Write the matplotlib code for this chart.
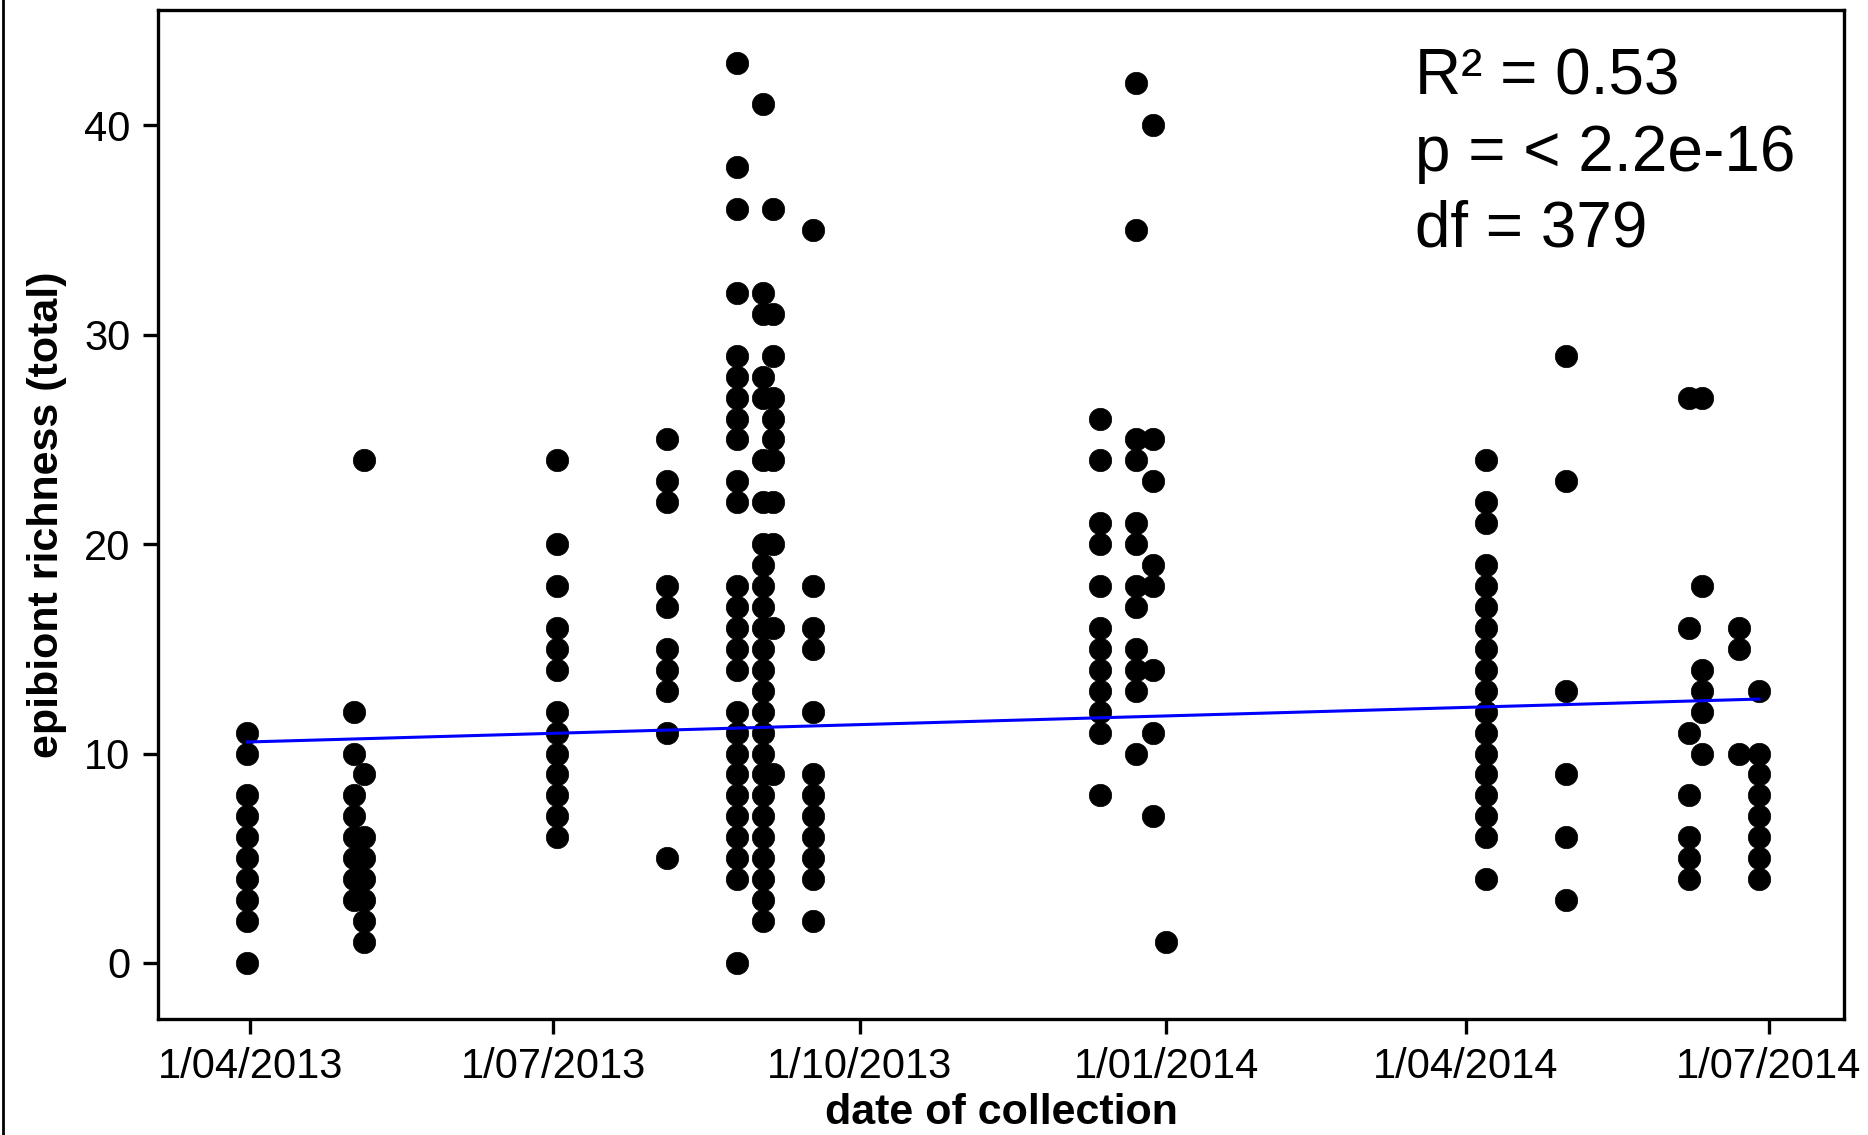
import numpy as np
import matplotlib
matplotlib.use("Agg")
from matplotlib import pyplot as plt
from matplotlib.lines import Line2D

plt.rcParams["font.family"] = ["Liberation Sans", "DejaVu Sans"]

# sampling dates and the richness counts seen at each date
sample_dates = ["2013-03-31", "2013-05-02", "2013-05-05", "2013-07-02", "2013-08-04",
                "2013-08-25", "2013-09-02", "2013-09-05", "2013-09-17", "2013-12-12",
                "2013-12-23", "2013-12-28", "2014-01-01", "2014-04-07", "2014-05-01",
                "2014-06-07", "2014-06-11", "2014-06-22", "2014-06-28"]

richness = [
    [11, 10, 8, 7, 6, 5, 4, 3, 2, 0],
    [12, 10, 8, 7, 6, 5, 4, 3],
    [24, 9, 6, 5, 4, 3, 2, 1],
    [24, 20, 18, 16, 15, 14, 12, 11, 10, 9, 8, 7, 6],
    [25, 23, 22, 18, 17, 15, 14, 13, 11, 5],
    [43, 38, 36, 32, 29, 28, 27, 26, 25, 23, 22, 18, 17, 16, 15, 14, 12, 11, 10, 9, 8, 7, 6, 5, 4, 0],
    [41, 32, 31, 28, 27, 24, 22, 20, 19, 18, 17, 16, 15, 14, 13, 12, 11, 10, 9, 8, 7, 6, 5, 4, 3, 2],
    [36, 31, 29, 27, 26, 25, 24, 22, 20, 16, 9],
    [35, 18, 16, 15, 12, 9, 8, 7, 6, 5, 4, 2],
    [26, 24, 21, 20, 18, 16, 15, 14, 13, 12, 11, 8],
    [42, 35, 25, 24, 21, 20, 18, 17, 15, 14, 13, 10],
    [40, 25, 23, 19, 18, 14, 11, 7],
    [1],
    [24, 22, 21, 19, 18, 17, 16, 15, 14, 13, 12, 11, 10, 9, 8, 7, 6, 4],
    [29, 23, 13, 9, 6, 3],
    [27, 16, 11, 8, 6, 5, 4],
    [27, 18, 14, 13, 12, 10],
    [16, 15, 10],
    [13, 10, 9, 8, 7, 6, 5, 4],
]

# fitted line, value at first and last sampling date
fit_dates = ["2013-03-31", "2014-06-28"]
fit_values = [10.55, 12.6]

tick_dates = ["2013-04-01", "2013-07-01", "2013-10-01", "2014-01-01", "2014-04-01", "2014-07-01"]
tick_labels = ["1/04/2013", "1/07/2013", "1/10/2013", "1/01/2014", "1/04/2014", "1/07/2014"]

stats_lines = ["R\u00b2 = 0.53", "p = < 2.2e-16", "df = 379"]

x = []
y = []
for d, vals in zip(sample_dates, richness):
    for v in vals:
        x.append(np.datetime64(d))
        y.append(v)

fig = plt.figure(figsize=(18.68, 11.35), dpi=100)
ax = fig.add_axes([0.0846, 0.102, 0.9025, 0.889])

ax.scatter(x, y, s=260, color="black", edgecolors="black", linewidths=0.5, zorder=3)
ax.plot(np.array(fit_dates, dtype="datetime64[D]"), fit_values, color="#0000ff", lw=2.2, zorder=4)

ax.set_xlim(np.datetime64("2013-03-04T06"), np.datetime64("2014-07-23T12"))
ax.set_ylim(-2.69, 45.5)

ax.set_xticks(np.array(tick_dates, dtype="datetime64[D]"))
ax.set_xticklabels(tick_labels)
ax.set_yticks([0, 10, 20, 30, 40])

for s in ax.spines.values():
    s.set_linewidth(2.4)
ax.tick_params(axis="both", direction="out", length=11, width=2.4, labelsize=30, pad=9)

# label sits right at the bottom edge, as in the original
ax.set_xlabel("date of collection", fontsize=31, fontweight="bold", labelpad=4)
ax.set_ylabel("epibiont richness (total)", fontsize=31, fontweight="bold", labelpad=12)

base = [0.9163, 0.8489, 0.7827]
for line, yb in zip(stats_lines, base):
    fig.text(0.7575, yb, line, fontsize=46, va="baseline", ha="left")

# border on the left edge of the original picture
fig.add_artist(Line2D([0.0015, 0.0015], [0, 1], transform=fig.transFigure, color="black", lw=2))

fig.savefig("out.png", dpi=100)
